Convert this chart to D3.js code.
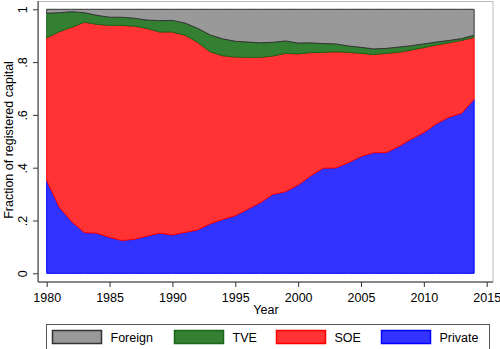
<!DOCTYPE html>
<html><head><meta charset="utf-8">
<script src="https://cdn.jsdelivr.net/npm/d3@7"></script>
<style>body{margin:0;background:#fff}svg{display:block;font-family:"Liberation Sans",Arial,sans-serif}</style>
</head><body><svg id="c" width="500" height="349"></svg>
<script>
const years = d3.range(1980, 2015);
const privateShare = [.351,.250,.195,.154,.152,.136,.124,.129,.141,.152,.145,.155,.164,.187,.204,.218,.243,.267,.299,.309,.334,.369,.398,.399,.419,.442,.457,.457,.480,.508,.533,.566,.591,.606,.659];
const soeShare = [.541,.665,.737,.797,.791,.803,.815,.807,.786,.762,.769,.747,.711,.652,.620,.601,.575,.551,.524,.524,.497,.467,.439,.440,.418,.391,.372,.376,.357,.338,.322,.299,.282,.276,.235];
const tveShare = [.093,.072,.059,.036,.034,.031,.031,.030,.032,.043,.044,.046,.053,.064,.064,.060,.058,.055,.052,.047,.041,.037,.033,.030,.024,.023,.021,.019,.020,.016,.014,.011,.009,.007,.008];
const foreignShare = [.015,.013,.009,.013,.023,.030,.030,.034,.041,.043,.042,.052,.072,.097,.112,.121,.124,.127,.125,.120,.128,.127,.130,.131,.139,.144,.150,.148,.143,.138,.131,.124,.118,.111,.098];
const seriesKeys = ["Private","SOE","TVE","Foreign"];
const legendOrder = ["Foreign","TVE","SOE","Private"];
const yTicks = [0,.2,.4,.6,.8,1];
const yTickLabels = ["0",".2",".4",".6",".8","1"];
const xTicks = [1980,1985,1990,1995,2000,2005,2010,2015];

const fills = {Foreign:"#999999",TVE:"#338033",SOE:"#ff3333",Private:"#3333ff"};
const strokes = {Foreign:"#333333",TVE:"#1a661a",SOE:"#ff0000",Private:"#0000ff"};

const rows = years.map((y,i)=>({year:y,Private:privateShare[i],SOE:soeShare[i],TVE:tveShare[i],Foreign:foreignShare[i]}));
const stacked = d3.stack().keys(seriesKeys)(rows);

const svg = d3.select("#c");
const x = d3.scaleLinear().domain([1980,2015]).range([46.7,486.7]);
const y = d3.scaleLinear().domain([0,1]).range([273.3,9.3]);

// plot region border
svg.append("rect").attr("x",38.5).attr("y",1.5).attr("width",454.5).attr("height",280.5)
  .attr("fill","#fff").attr("stroke","#bbbbbb").attr("stroke-width",1);

const area = d3.area().x(d=>x(d.data.year)).y0(d=>y(d[0])).y1(d=>y(d[1]));
svg.append("g").selectAll("path").data(stacked).join("path")
  .attr("d",area).attr("fill",d=>fills[d.key]).attr("stroke",d=>strokes[d.key])
  .attr("stroke-width",1).attr("stroke-linejoin","round");

// axes
const ax = svg.append("g").attr("transform","translate(0,282)");
ax.append("line").attr("x1",38).attr("x2",493).attr("stroke","#333").attr("stroke-width",1);
ax.call(d3.axisBottom(x).tickValues(xTicks).tickFormat(d3.format("d")).tickSize(5).tickSizeOuter(0))
  .call(g=>g.select(".domain").remove())
  .call(g=>g.selectAll("line").attr("stroke","#333"))
  .call(g=>g.selectAll("text").attr("font-size","12.5px").attr("fill","#000").attr("dy","0.95em").attr("font-family","Liberation Sans, Arial, sans-serif"));

const ay = svg.append("g").attr("transform","translate(38,0)");
ay.append("line").attr("y1",1).attr("y2",282).attr("stroke","#333");
ay.call(d3.axisLeft(y).tickValues(yTicks).tickFormat((d,i)=>yTickLabels[i]).tickSize(5).tickSizeOuter(0))
  .call(g=>g.select(".domain").remove())
  .call(g=>g.selectAll("line").attr("stroke","#333"));
ay.selectAll(".tick text").attr("x",null).attr("dy",null)
  .attr("transform","translate(-11,0) rotate(-90)").attr("text-anchor","middle")
  .attr("font-size","12.5px").attr("fill","#000").attr("font-family","Liberation Sans, Arial, sans-serif");

svg.append("text").attr("x",266).attr("y",314).attr("text-anchor","middle")
  .attr("font-size","12.5px").text("Year");
svg.append("text").attr("transform","translate(13,140) rotate(-90)").attr("text-anchor","middle")
  .attr("font-size","12.5px").text("Fraction of registered capital");

// legend
const lg = svg.append("g");
lg.append("rect").attr("x",46.5).attr("y",324.5).attr("width",443).attr("height",30)
  .attr("fill","#fff").attr("stroke","#555");
const keyX = {Foreign:52.5,TVE:174.5,SOE:276.5,Private:381.5};
legendOrder.forEach(k=>{
  lg.append("rect").attr("x",keyX[k]).attr("y",330.5).attr("width",49).attr("height",13)
    .attr("fill",fills[k]).attr("stroke",strokes[k]).attr("stroke-width",1.5);
  lg.append("text").attr("x",keyX[k]+58).attr("y",341.5).attr("font-size","12.5px").text(k);
});
</script></body></html>
